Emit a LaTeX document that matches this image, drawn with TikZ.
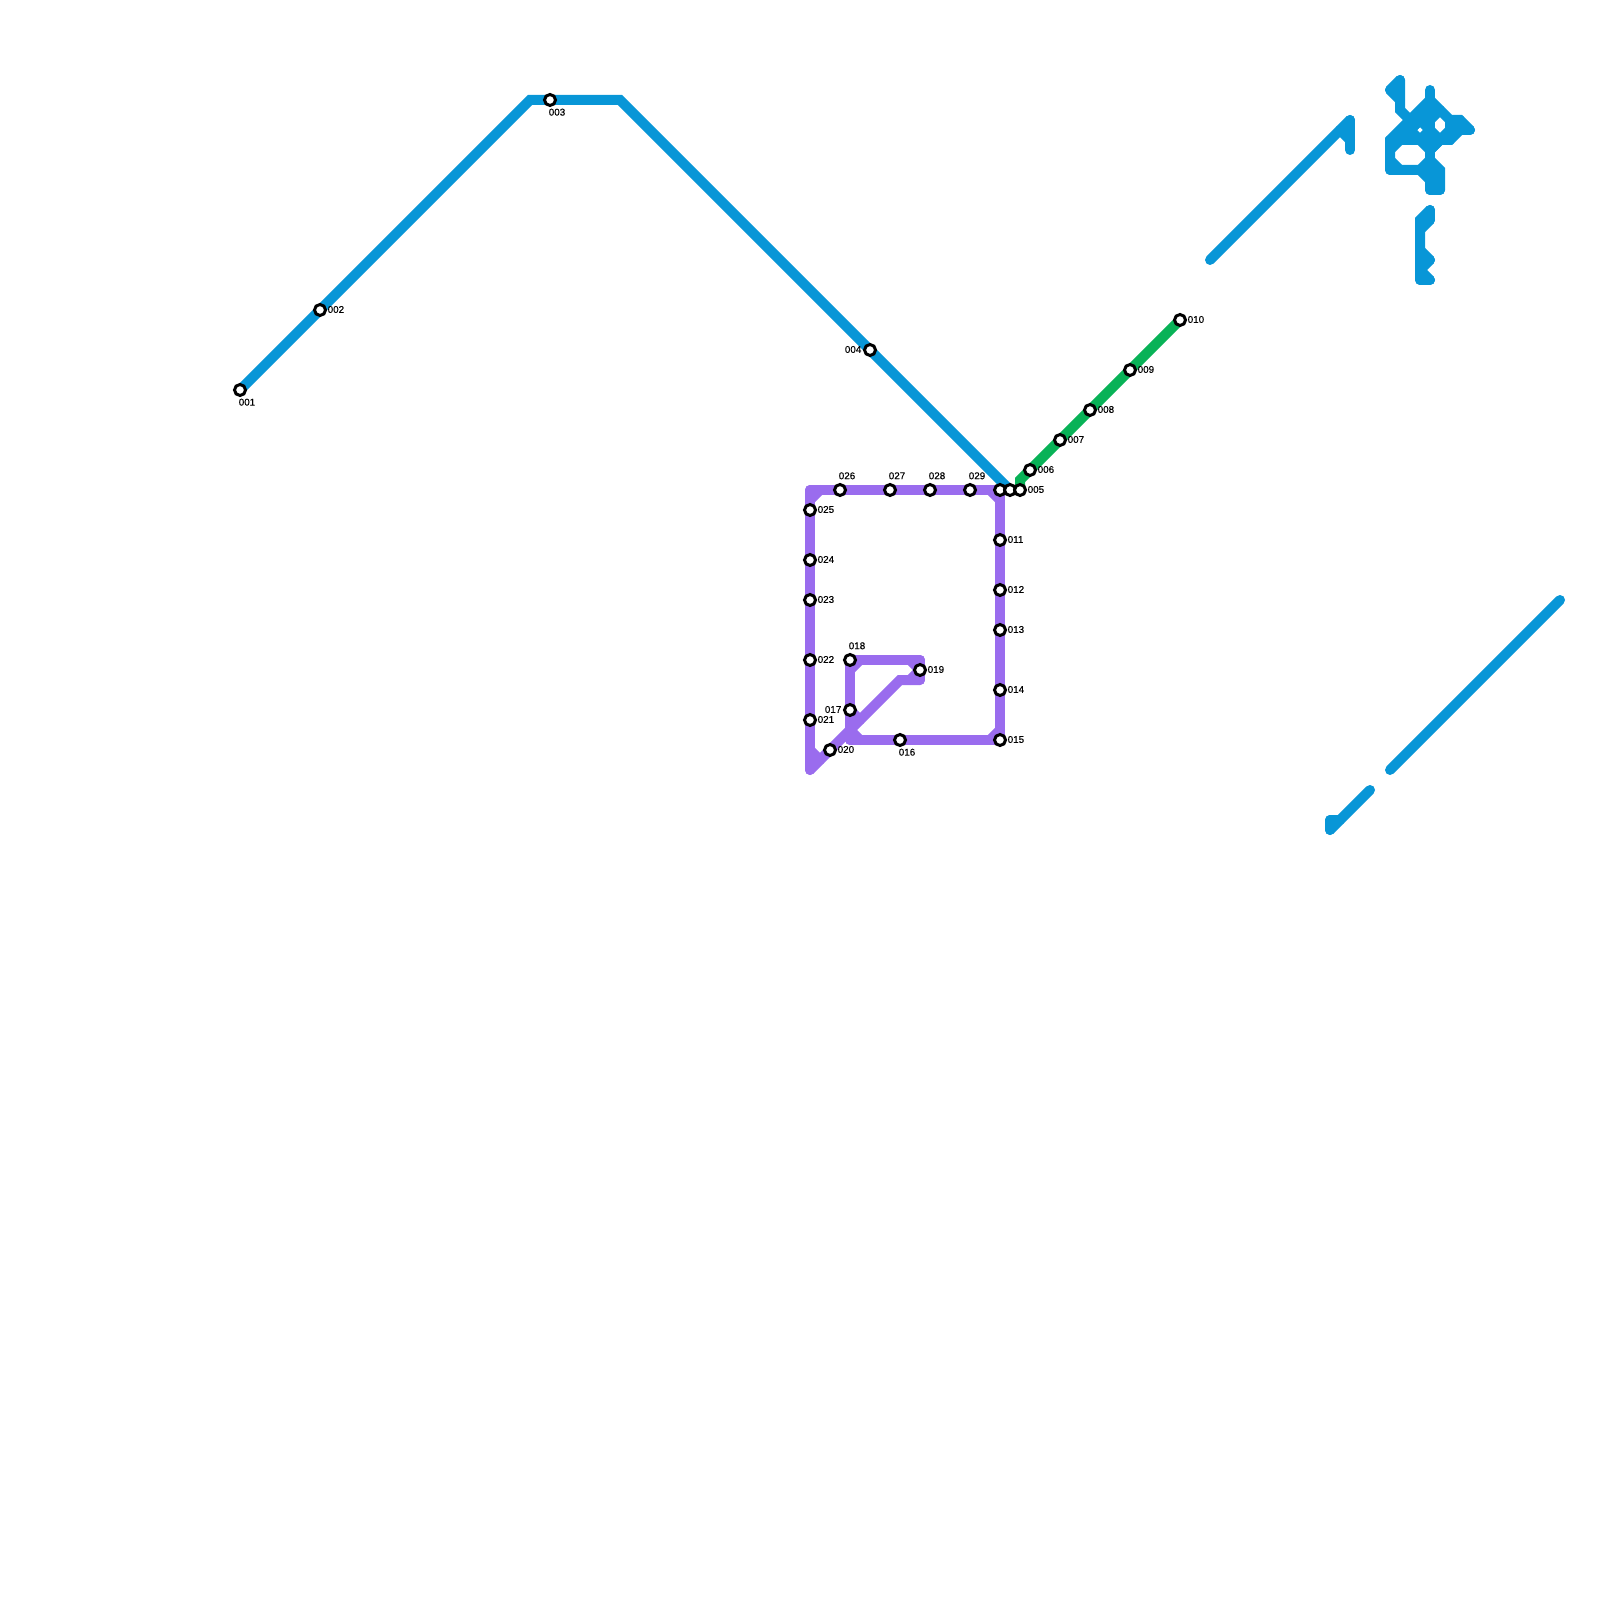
\documentclass[tikz,border=0pt]{standalone}
\usepackage{fontspec}
\newfontfamily\labelfont[FakeBold=0.3]{Liberation Sans}
\usetikzlibrary{positioning,backgrounds}
\definecolor{lineBlue}{HTML}{0896D7}
\definecolor{linePurple}{HTML}{9A6CEE}
\definecolor{lineGreen}{HTML}{08B257}
\tikzset{
        % Stations
        node_station/.style={circle, draw=black, fill=white, line width=0.03cm, minimum size=0.11cm, inner sep=0pt},
        % Station labels
        node_label/.style={inner sep=0pt, yshift=0.005cm, font=\labelfont\fontsize{2.8}{3}\selectfont},
        % Track lines
        track/.style={line width=0.1cm, line cap=round, line join=miter, miter limit=1.2},
        track_blue/.style={track, lineBlue},
        track_purple/.style={track, linePurple},
        track_green/.style={track, lineGreen}
}
\begin{document}
\begin{tikzpicture}
    \useasboundingbox (0,0) rectangle (16,-16);
    % Stations
    \node[node_station] (s001) at (2.4,-3.9) {};
    \node[node_station] (s002) at (3.2,-3.1) {};
    \node[node_station] (s003) at (5.5,-1.0) {};
    \node[node_station] (s004) at (8.7,-3.5) {};
    \node[node_station] (s005p) at (10.0,-4.9) {};
    \node[node_station] (s005b) at (10.1,-4.9) {};
    \node[node_station] (s005g) at (10.2,-4.9) {};
    \node[node_station] (s006) at (10.3,-4.7) {};
    \node[node_station] (s007) at (10.6,-4.4) {};
    \node[node_station] (s008) at (10.9,-4.1) {};
    \node[node_station] (s009) at (11.3,-3.7) {};
    \node[node_station] (s010) at (11.8,-3.2) {};
    \node[node_station] (s011) at (10.0,-5.4) {};
    \node[node_station] (s012) at (10.0,-5.9) {};
    \node[node_station] (s013) at (10.0,-6.3) {};
    \node[node_station] (s014) at (10.0,-6.9) {};
    \node[node_station] (s015) at (10.0,-7.4) {};
    \node[node_station] (s016) at (9.0,-7.4) {};
    \node[node_station] (s017) at (8.5,-7.1) {};
    \node[node_station] (s018) at (8.5,-6.6) {};
    \node[node_station] (s019) at (9.2,-6.7) {};
    \node[node_station] (s020) at (8.3,-7.5) {};
    \node[node_station] (s021) at (8.1,-7.2) {};
    \node[node_station] (s022) at (8.1,-6.6) {};
    \node[node_station] (s023) at (8.1,-6.0) {};
    \node[node_station] (s024) at (8.1,-5.6) {};
    \node[node_station] (s025) at (8.1,-5.1) {};
    \node[node_station] (s026) at (8.4,-4.9) {};
    \node[node_station] (s027) at (8.9,-4.9) {};
    \node[node_station] (s028) at (9.3,-4.9) {};
    \node[node_station] (s029) at (9.7,-4.9) {};
    % Labels
    \node[node_label, below=0.015cm of s001, xshift=0.07cm] (t001) {001};
    \node[node_label, right=0cm of s002] (t002) {002};
    \node[node_label, below=0.015cm of s003, xshift=0.07cm] (t003) {003};
    \node[node_label, left=0.01cm of s004] (t004) {004};
    \node[node_label, right=0cm of s005g] (t005) {005};
    \node[node_label, right=0cm of s006] (t006) {006};
    \node[node_label, right=0cm of s007] (t007) {007};
    \node[node_label, right=0cm of s008] (t008) {008};
    \node[node_label, right=0cm of s009] (t009) {009};
    \node[node_label, right=0cm of s010] (t010) {010};
    \node[node_label, right=0cm of s011] (t011) {011};
    \node[node_label, right=0cm of s012] (t012) {012};
    \node[node_label, right=0cm of s013] (t013) {013};
    \node[node_label, right=0cm of s014] (t014) {014};
    \node[node_label, right=0cm of s015] (t015) {015};
    \node[node_label, below=0.015cm of s016, xshift=0.07cm] (t016) {016};
    \node[node_label, left=0.01cm of s017] (t017) {017};
    \node[node_label, above=0.025cm of s018, xshift=0.07cm] (t018) {018};
    \node[node_label, right=0cm of s019] (t019) {019};
    \node[node_label, right=0cm of s020] (t020) {020};
    \node[node_label, right=0cm of s021] (t021) {021};
    \node[node_label, right=0cm of s022] (t022) {022};
    \node[node_label, right=0cm of s023] (t023) {023};
    \node[node_label, right=0cm of s024] (t024) {024};
    \node[node_label, right=0cm of s025] (t025) {025};
    \node[node_label, above=0.025cm of s026, xshift=0.07cm] (t026) {026};
    \node[node_label, above=0.025cm of s027, xshift=0.07cm] (t027) {027};
    \node[node_label, above=0.025cm of s028, xshift=0.07cm] (t028) {028};
    \node[node_label, above=0.025cm of s029, xshift=0.07cm] (t029) {029};
    \begin{scope}[on background layer]
        % Blue line
        \draw[track_blue] (s001.center) -- (s002.center) -- (5.3,-1.0) -- (s003.center) -- (6.2,-1.0) -- (s004.center) -- (s005b.center);
        % Green line
        \draw[track_green] (s005g.center) -- (10.2,-4.8) -- (s006.center) -- (s007.center) -- (s008.center) -- (s009.center) -- (s010.center);
        % Purple line
        \draw[track_purple] (s005p.center) -- (s011.center) -- (s012.center) -- (s013.center) -- (s014.center) -- (s015.center);
        \draw[track_purple] (s015.center) -- (s016.center) -- (8.5,-7.4);
        \draw[track_purple] (8.5,-7.4) -- (s017.center) -- (s018.center);
        \draw[track_purple] (s018.center) -- (9.2,-6.6);
        \draw[track_purple] (9.2,-6.6) -- (s019.center) -- (9.2,-6.8);
        \draw[track_purple] (9.2,-6.8) -- (9.0,-6.8) -- (s020.center) -- (8.1,-7.7);
        \draw[track_purple] (8.1,-7.7) -- (s021.center) -- (s022.center) -- (s023.center) -- (s024.center) -- (s025.center) -- (8.1,-4.9);
        \draw[track_purple] (8.1,-4.9) -- (s026.center) -- (s027.center) -- (s028.center) -- (s029.center) -- (s005p.center);
        \draw[track_purple] (8.1,-5.0) -- (8.2,-4.9);
        \draw[track_purple] (9.9,-4.9) -- (10.0,-5.0);
        \draw[track_purple] (9.9,-7.4) -- (10.0,-7.3);
        \draw[track_purple] (8.5,-6.7) -- (8.6,-6.6);
        \draw[track_purple] (9.1,-6.6) -- (s019.center);
        \draw[track_purple] (s019.center) -- (9.1,-6.8);
        \draw[track_purple] (s017.center) -- (8.6,-7.2);
        \draw[track_purple] (8.5,-7.3) -- (8.6,-7.4);
        \draw[track_purple] (8.1,-7.5) -- (8.2,-7.6);
        % Loose blue pieces
        \draw[track_blue] (12.1,-2.6) -- (13.5,-1.2);
        \draw[track_blue] (13.5,-1.2) -- (13.5,-1.5);
        \draw[track_blue] (13.4,-1.3) -- (13.5,-1.4);
        \draw[track_blue] (13.9,-7.7) -- (15.6,-6.0);
        \draw[track_blue] (13.3,-8.2) -- (13.3,-8.3);
        \draw[track_blue] (13.3,-8.3) -- (13.7,-7.9);
        \draw[track_blue] (13.3,-8.2) -- (13.4,-8.2);
        % Blue knot
        \draw[track_blue] (13.9,-0.9) -- (14.0,-0.8);
        \draw[track_blue] (14.0,-0.8) -- (14.0,-1.1) -- (14.1,-1.2);
        \draw[track_blue] (13.9,-0.9) -- (14.0,-1.0);
        \draw[track_blue] (14.3,-0.9) -- (14.3,-1.9);
        \draw[track_blue] (14.3,-1.9) -- (14.4,-1.9);
        \draw[track_blue] (14.4,-1.9) -- (14.4,-1.7) -- (14.3,-1.6);
        \draw[track_blue] (13.9,-1.7) -- (13.9,-1.4) -- (14.3,-1.0);
        \draw[track_blue] (14.3,-1.0) -- (14.5,-1.2) -- (14.6,-1.2) -- (14.7,-1.3);
        \draw[track_blue] (14.7,-1.3) -- (14.6,-1.3) -- (14.5,-1.4) -- (14.4,-1.4);
        \draw[track_blue] (14.5,-1.2) -- (14.5,-1.4);
        \draw[track_blue] (14.5,-1.3) -- (14.6,-1.3);
        \draw[track_blue] (14.6,-1.2) -- (14.6,-1.3);
        \draw[track_blue] (14.4,-1.4) -- (14.3,-1.3);
        \draw[track_blue] (14.4,-1.4) -- (14.3,-1.5);
        \draw[track_blue] (14.3,-1.5) -- (14.5,-1.3);
        \draw[track_blue] (14.3,-1.3) -- (14.2,-1.2);
        \draw[track_blue] (14.2,-1.2) -- (14.1,-1.3);
        \draw[track_blue] (14.1,-1.3) -- (14.2,-1.4);
        \draw[track_blue] (14.2,-1.4) -- (14.3,-1.3);
        \draw[track_blue] (14.0,-1.4) -- (14.3,-1.1);
        \draw[track_blue] (14.3,-1.2) -- (14.4,-1.1);
        \draw[track_blue] (13.9,-1.7) -- (14.2,-1.7) -- (14.3,-1.8);
        \draw[track_blue] (13.9,-1.4) -- (14.2,-1.4) -- (14.3,-1.5);
        \draw[track_blue] (13.9,-1.5) -- (14.0,-1.4);
        \draw[track_blue] (13.9,-1.6) -- (14.0,-1.7);
        \draw[track_blue] (14.2,-1.7) -- (14.3,-1.6);
        % Blue strip
        \draw[track_blue] (14.3,-2.1) -- (14.2,-2.2) -- (14.2,-2.8);
        \draw[track_blue] (14.2,-2.8) -- (14.3,-2.8);
        \draw[track_blue] (14.3,-2.8) -- (14.2,-2.7);
        \draw[track_blue] (14.2,-2.7) -- (14.3,-2.6);
        \draw[track_blue] (14.3,-2.6) -- (14.2,-2.5);
        \draw[track_blue] (14.3,-2.1) -- (14.3,-2.2);
        \draw[track_blue] (14.3,-2.2) -- (14.2,-2.3);
    \end{scope}
\end{tikzpicture}
\end{document}
